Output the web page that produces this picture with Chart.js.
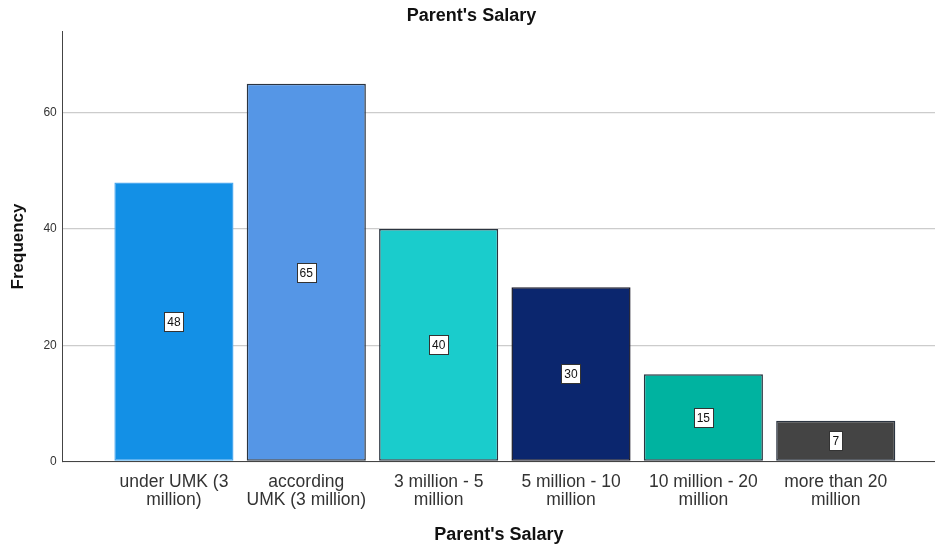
<!DOCTYPE html>
<html>
<head>
<meta charset="utf-8">
<script src="https://cdn.jsdelivr.net/npm/chart.js@4"></script>
<style>
  html, body { margin: 0; padding: 0; background: #fff; }
  #wrap { width: 935px; height: 546px; }
</style>
</head>
<body>
<div id="wrap"><canvas id="grafikGaji"></canvas></div>
<script>
// data
const kategori = [
    ['under UMK (3', 'million)'],
    ['according', 'UMK (3 million)'],
    ['3 million - 5', 'million'],
    ['5 million - 10', 'million'],
    ['10 million - 20', 'million'],
    ['more than 20', 'million']
];
const frekuensi = [48, 65, 40, 30, 15, 7];
const warnaBar = ['#1390E6', '#5596E6', '#1ACCCC', '#0B266E', '#00B3A0', '#444444'];
const warnaTepi = ['#4AA8EE', '#2b3440', '#2b3440', '#1a1a2a', '#2b3440', '#2b3440'];
const ticksY = [0, 20, 40, 60];

const FONT = 'Arial, "Liberation Sans", sans-serif';

// label nilai di tengah batang (kotak putih)
const labelNilai = {
    id: 'labelNilai',
    afterDatasetsDraw(chart) {
        const ctx = chart.ctx;
        const meta = chart.getDatasetMeta(0);
        ctx.save();
        ctx.font = '12px ' + FONT;
        ctx.textAlign = 'center';
        ctx.textBaseline = 'middle';
        meta.data.forEach((bar, i) => {
            const teks = String(frekuensi[i]);
            const cx = bar.x;
            const cy = (bar.y + bar.base) / 2;
            const w = ctx.measureText(teks).width + 6;
            const h = 19;
            const x0 = Math.round(cx - w / 2) + 0.5;
            const y0 = Math.round(cy - h / 2) + 0.5;
            ctx.fillStyle = '#fff';
            ctx.fillRect(x0, y0, Math.round(w), h);
            ctx.strokeStyle = '#333';
            ctx.lineWidth = 1;
            ctx.strokeRect(x0, y0, Math.round(w), h);
            ctx.fillStyle = '#111';
            ctx.fillText(teks, cx, cy + 1);
        });
        ctx.restore();
    }
};

const ctx = document.getElementById('grafikGaji').getContext('2d');

new Chart(ctx, {
    type: 'bar',
    data: {
        datasets: [{
            label: 'Frequency',
            data: frekuensi.map((v, i) => ({ x: i, y: v })),
            backgroundColor: warnaBar,
            borderColor: warnaTepi,
            borderWidth: 1.5,
            borderSkipped: false,
            barPercentage: 0.9,
            categoryPercentage: 1
        }]
    },
    plugins: [labelNilai],
    options: {
        responsive: true,
        maintainAspectRatio: false,
        animation: false,
        layout: { padding: { top: 5, right: 0, left: 8, bottom: 0 } },
        plugins: {
            legend: { display: false },
            tooltip: { enabled: false },
            title: {
                display: true,
                text: "Parent's Salary",
                color: '#111',
                font: { family: FONT, size: 18, weight: 'bold' },
                padding: { top: 0, bottom: 5 }
            }
        },
        scales: {
            x: {
                type: 'linear',
                offset: false,
                min: -0.84,
                max: 5.75,
                afterBuildTicks(scale) {
                    scale.ticks = kategori.map((_, i) => ({ value: i }));
                },
                ticks: {
                    autoSkip: false,
                    maxRotation: 0,
                    color: '#333',
                    font: { family: FONT, size: 17.5, lineHeight: 1.03 },
                    padding: 12,
                    callback: (v) => kategori[v]
                },
                grid: { display: false, drawTicks: false },
                border: { display: true, color: '#444', width: 1 },
                title: {
                    display: true,
                    text: "Parent's Salary",
                    color: '#111',
                    font: { family: FONT, size: 18, weight: 'bold' },
                    padding: { top: 3, bottom: 0 }
                }
            },
            y: {
                min: 0,
                max: 74,
                afterBuildTicks(scale) {
                    scale.ticks = ticksY.map(v => ({ value: v }));
                },
                ticks: {
                    color: '#333',
                    font: { family: FONT, size: 12 },
                    padding: 6
                },
                grid: { color: '#cccccc', lineWidth: 1.2, drawTicks: false },
                border: { display: true, color: '#444', width: 1 },
                title: {
                    display: true,
                    text: 'Frequency',
                    color: '#111',
                    font: { family: FONT, size: 17, weight: 'bold' },
                    padding: { top: 0, bottom: 9 }
                }
            }
        }
    }
});
</script>
</body>
</html>
